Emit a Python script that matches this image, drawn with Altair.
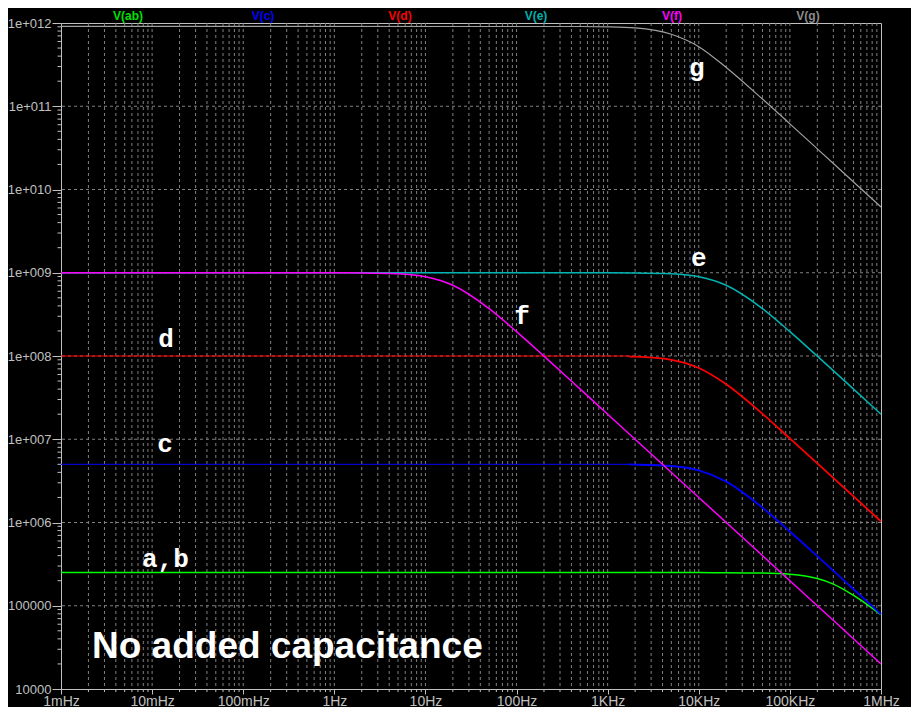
import json
import altair as alt
import pandas as pd

# ---------------- data ----------------
# frequencies in Hz, values in (V) on log scales
freq_ab = [1e-3, 1e4, 2e4, 5e4, 1e5, 2e5, 3e5, 5e5, 7e5, 1e6]
val_ab = [2.5e5, 2.5e5, 2.495e5, 2.47e5, 2.39e5, 2.12e5, 1.82e5, 1.33e5, 1.04e5, 7.8e4]

freq_c_flat = [1e-3, 1.7e3]
val_c_flat = [5.0e6, 5.0e6]
freq_c = [1.7e3, 2e3, 5e3, 1e4, 2e4, 5e4, 1e5, 2e5, 5e5, 1e6]
val_c = [4.98e6, 4.96e6, 4.77e6, 4.23e6, 3.10e6, 1.51e6, 7.8e5, 3.94e5, 1.58e5, 7.9e4]

freq_d_flat = [1e-3, 1.7e3]
val_d_flat = [1.0e8, 1.0e8]
freq_d = [1.7e3, 2e3, 5e3, 1e4, 2e4, 5e4, 1e5, 2e5, 5e5, 1e6]
val_d = [9.87e7, 9.82e7, 9.0e7, 7.17e7, 4.58e7, 2.02e7, 1.02e7, 5.14e6, 2.06e6, 1.03e6]

freq_e = [1e-3, 500, 1e3, 2e3, 5e3, 1e4, 2e4, 5e4, 1e5, 2e5, 5e5, 1e6]
val_e = [1e9, 1e9, 9.99e8, 9.95e8, 9.70e8, 8.94e8, 7.07e8, 3.71e8, 1.96e8, 9.95e7, 4.0e7, 2.0e7]

freq_f = [1e-3, 0.5, 1, 2, 5, 10, 20, 50, 100, 200, 500, 1e3, 1e4, 1e5, 1e6]
val_f = [1e9, 1e9, 9.99e8, 9.95e8, 9.70e8, 8.94e8, 7.07e8, 3.71e8, 1.96e8, 9.95e7, 4.0e7, 2.0e7, 2.0e6, 2.0e5, 2.0e4]

freq_g = [1e-3, 500, 1e3, 2e3, 5e3, 1e4, 2e4, 5e4, 1e5, 2e5, 5e5, 1e6]
val_g = [9.1e11, 9.08e11, 9.0e11, 8.73e11, 7.32e11, 5.2e11, 2.92e11, 1.22e11, 6.15e10, 3.08e10, 1.23e10, 6.16e9]

trace_names = ["V(ab)", "V(c)", "V(d)", "V(e)", "V(f)", "V(g)"]
trace_colors = ["#00ff00", "#0000ff", "#ff0000", "#00b4b4", "#ff00ff", "#a0a0a0"]
header_colors = ["#00e000", "#0000ff", "#ff0000", "#00b0b0", "#ff00ff", "#8c8c8c"]

x_tick_labels = ["1mHz", "10mHz", "100mHz", "1Hz", "10Hz", "100Hz", "1KHz", "10KHz", "100KHz", "1MHz"]
y_tick_labels = ["10000", "100000", "1e+006", "1e+007", "1e+008", "1e+009", "1e+010", "1e+011", "1e+012"]
x_decades = [10.0 ** k for k in range(-3, 7)]
y_decades = [10.0 ** k for k in range(4, 13)]
minor_mult = [2, 3, 4, 5, 6, 7, 8, 9]

ann_text = ["g", "e", "f", "d", "c", "a,b"]
ann_freq = [9.5e3, 1.0e4, 115, 0.0142, 0.0139, 0.0140]
ann_val = [2.29e11, 1.19e9, 2.4e8, 1.27e8, 6.97e6, 2.9e5]

note_text = ["No added capacitance"]
note_freq = [2.19e-3]
note_val = [2.38e4]

# ---------------- scales / axes ----------------
GREY = "#c0c0c0"
xscale = alt.Scale(type="log", domain=[1e-3, 1e6], nice=False)
yscale = alt.Scale(type="log", domain=[1e4, 1e12], nice=False)

x_axis = alt.Axis(values=x_decades, labelExpr=json.dumps(x_tick_labels) + "[round(log(datum.value)/LN10)+3]",
                  tickSize=5, tickColor=GREY, labelColor=GREY, labelFont="Liberation Sans", labelFontSize=14,
                  labelBaseline="alphabetic", labelPadding=11,
                  domain=False, grid=False, title=None, labelFlush=False, labelOverlap=False)
y_axis = alt.Axis(values=y_decades, labelExpr=json.dumps(y_tick_labels) + "[round(log(datum.value)/LN10)-4]",
                  tickSize=9, tickColor=GREY, labelColor=GREY, labelFont="Liberation Sans", labelFontSize=13,
                  labelPadding=1, domain=False, grid=False, title=None, labelFlush=False, labelOverlap=False)

X = alt.X("f:Q", scale=xscale, axis=x_axis)
Y = alt.Y("v:Q", scale=yscale, axis=y_axis)

# grid values
x_grid = [m * 10.0 ** k for k in range(-3, 6) for m in [1] + minor_mult]
x_grid = [v for v in x_grid if 1e-3 < v < 1e6]
y_grid = [10.0 ** k for k in range(5, 12)]
x_minor = [m * 10.0 ** k for k in range(-3, 6) for m in minor_mult]
y_minor = [m * 10.0 ** k for k in range(4, 12) for m in minor_mult]

layers = []

# vertical grid
layers.append(alt.Chart(pd.DataFrame({"f": x_grid})).mark_rule(color="#808080", strokeDash=[3, 3], strokeWidth=1)
              .encode(x=X))
# horizontal grid
layers.append(alt.Chart(pd.DataFrame({"v": y_grid})).mark_rule(color="#808080", strokeDash=[3, 3], strokeWidth=1)
              .encode(y=Y))
# minor ticks
layers.append(alt.Chart(pd.DataFrame({"f": x_minor})).mark_rule(color=GREY, strokeWidth=1)
              .encode(x=X, y=alt.value(666), y2=alt.value(669)))
layers.append(alt.Chart(pd.DataFrame({"v": y_minor})).mark_rule(color=GREY, strokeWidth=1)
              .encode(y=Y, x=alt.value(-3.5), x2=alt.value(0)))

# traces (drawn in LTspice order)
segments = [
    (freq_ab, val_ab, trace_colors[0], 1.5),
    (freq_c_flat, val_c_flat, trace_colors[1], 1.0),
    (freq_c, val_c, trace_colors[1], 1.8),
    (freq_d_flat, val_d_flat, trace_colors[2], 1.0),
    (freq_d, val_d, trace_colors[2], 1.8),
    (freq_e, val_e, trace_colors[3], 1.5),
    (freq_f, val_f, trace_colors[4], 1.5),
    (freq_g, val_g, trace_colors[5], 1.2),
]
for fr, vv, col, sw in segments:
    df = pd.DataFrame({"f": fr, "v": vv, "o": list(range(len(fr)))})
    layers.append(alt.Chart(df).mark_line(color=col, strokeWidth=sw, interpolate="monotone")
                  .encode(x=X, y=Y, order="o:Q"))

# trace annotations
layers.append(alt.Chart(pd.DataFrame({"f": ann_freq, "v": ann_val, "t": ann_text}))
              .mark_text(font="Liberation Mono", fontWeight="bold", fontSize=26, color="white",
                         align="center", baseline="alphabetic")
              .encode(x=X, y=Y, text="t:N"))
layers.append(alt.Chart(pd.DataFrame({"f": note_freq, "v": note_val, "t": note_text}))
              .mark_text(font="Liberation Sans", fontWeight="bold", fontSize=37, color="white",
                         align="left", baseline="alphabetic")
              .encode(x=X, y=Y, text="t:N"))

# header trace names
header_x = [67, 202, 339, 475, 611, 747]
for name, col, px in zip(trace_names, header_colors, header_x):
    layers.append(alt.Chart(pd.DataFrame({"t": [name]}))
                  .mark_text(font="Liberation Sans", fontWeight="bold", fontSize=12, color=col,
                             align="center", baseline="middle")
                  .encode(x=alt.value(px), y=alt.value(-7), text="t:N"))

chart = (alt.layer(*layers)
         .properties(width=820, height=666,
                     padding={"left": 53, "top": 15, "right": 30, "bottom": 18},
                     autosize=alt.AutoSizeParams(type="none"),
                     background="black")
         .configure_view(stroke=GREY, strokeWidth=1, fill="black"))

chart.save("out.html", embed_options={"renderer": "svg", "actions": False})
